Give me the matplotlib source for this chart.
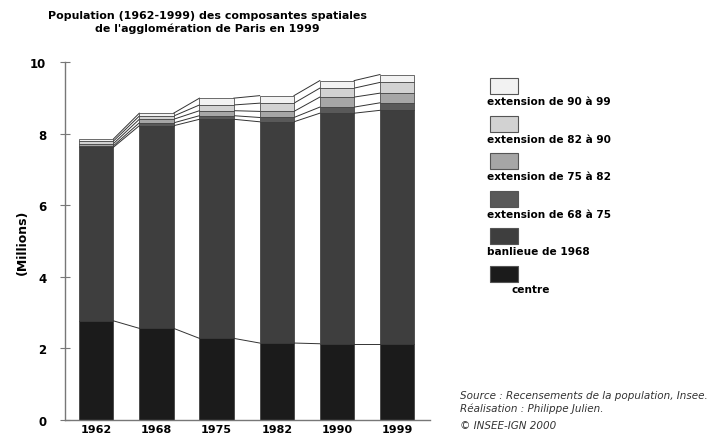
import numpy as np
import matplotlib.pyplot as plt
from matplotlib.patches import Rectangle

years = ["1962", "1968", "1975", "1982", "1990", "1999"]
categories = ["centre", "banlieue de 1968", "extension de 68 à 75",
              "extension de 75 à 82", "extension de 82 à 90", "extension de 90 à 99"]

# population in millions, per component
centre = [2.77, 2.56, 2.28, 2.15, 2.13, 2.13]
banlieue = [4.85, 5.66, 6.12, 6.18, 6.44, 6.52]
ext_68_75 = [0.04, 0.08, 0.10, 0.12, 0.17, 0.21]
ext_75_82 = [0.06, 0.10, 0.14, 0.17, 0.28, 0.27]
ext_82_90 = [0.07, 0.09, 0.16, 0.23, 0.25, 0.30]
ext_90_99 = [0.06, 0.08, 0.19, 0.21, 0.21, 0.22]

colors = ["#1b1b1b", "#3e3e3e", "#595959", "#a6a6a6", "#d2d2d2", "#f2f2f2"]

layers = [centre, banlieue, ext_68_75, ext_75_82, ext_82_90, ext_90_99]

fig = plt.figure(figsize=(7.19, 4.39), dpi=100)
ax = fig.add_axes([0.0904, 0.041, 0.508, 0.8155])

x = np.arange(len(years))
w = 0.57
bottom = np.zeros(len(years))
tops = []
for vals, col in zip(layers, colors):
    vals = np.array(vals)
    ax.bar(x, vals, w, bottom=bottom, color=col, edgecolor="#333333", linewidth=0.5, zorder=2)
    bottom = bottom + vals
    tops.append(bottom.copy())

# connecting lines between bars
for t in tops:
    for i in range(len(years) - 1):
        ax.plot([x[i] + w / 2, x[i + 1] - w / 2], [t[i], t[i + 1]],
                color="#333333", linewidth=0.7, zorder=1)

ax.set_ylim(0, 10)
ax.set_xlim(-0.52, 5.55)
ax.set_yticks([0, 2, 4, 6, 8, 10])
ax.set_xticks(x)
ax.set_xticklabels(years)
for sp in ["top", "right"]:
    ax.spines[sp].set_visible(False)
for sp in ["left", "bottom"]:
    ax.spines[sp].set_color("#777777")
    ax.spines[sp].set_linewidth(1.0)
ax.tick_params(axis="y", direction="inout", length=7, color="#777777", labelsize=8.5, pad=10)
ax.tick_params(axis="x", length=0, labelsize=8, pad=3)
for lab in ax.get_xticklabels() + ax.get_yticklabels():
    lab.set_fontweight("bold")
ax.set_ylabel("(Millions)", fontsize=9, fontweight="bold", labelpad=4)
ax.yaxis.set_label_coords(-0.1, 0.5)

fig.text(0.289, 0.975, "Population (1962-1999) des composantes spatiales\nde l'agglomération de Paris en 1999",
         ha="center", va="top", fontsize=7.9, fontweight="bold", linespacing=1.25)

# legend drawn by hand: patch above its label
patch_tops = [79, 117, 154, 192, 229, 267]
for k, (lab, col) in enumerate(zip(categories[::-1], colors[::-1])):
    y0 = patch_tops[k]
    fig.patches.append(Rectangle((490 / 719, 1 - (y0 + 16) / 439), 28 / 719, 16 / 439,
                                 transform=fig.transFigure, facecolor=col,
                                 edgecolor="#555555", linewidth=0.8))
    tx = 511 / 719 if lab == "centre" else 487 / 719
    fig.text(tx, 1 - (y0 + 23) / 439, lab, fontsize=7.6, fontweight="bold", va="center", ha="left")

fig.text(460 / 719, 1 - 396 / 439, "Source : Recensements de la population, Insee.",
         fontsize=7.5, style="italic", color="#333333", va="center")
fig.text(460 / 719, 1 - 409 / 439, "Réalisation : Philippe Julien.",
         fontsize=7.5, style="italic", color="#333333", va="center")
fig.text(460 / 719, 1 - 426 / 439, "© INSEE-IGN 2000",
         fontsize=7.5, style="italic", color="#333333", va="center")

fig.savefig("out.png", dpi=100)
